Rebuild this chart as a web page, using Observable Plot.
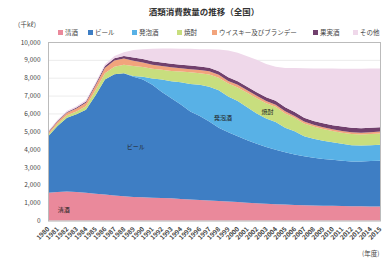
<!DOCTYPE html>
<html><head><meta charset="utf-8">
<script src="https://cdn.jsdelivr.net/npm/d3@7"></script>
<script src="https://cdn.jsdelivr.net/npm/@observablehq/plot@0.6"></script>
<style>
body{margin:0;background:#fff;font-family:"Noto Sans CJK JP","Noto Sans",sans-serif;width:382px;height:265px;overflow:hidden;}
#head{position:relative;height:36px;color:#333;}
#title{position:absolute;left:0;width:408px;top:5px;text-align:center;font-size:8.5px;font-weight:bold;line-height:12px;}
#unit{position:absolute;left:14px;top:20px;font-size:6.5px;line-height:9px;color:#444;}
#legend{position:absolute;left:0;top:28px;width:400px;height:10px;font-size:6.5px;line-height:9px;white-space:nowrap;color:#444;}
#legend span.it{position:absolute;top:0;display:flex;align-items:center;gap:2px;}
#legend i{display:inline-block;width:5px;height:5px;}
#chart svg{display:block;}
</style></head>
<body>
<div id="head"><div id="title">酒類消費数量の推移（全国）</div><div id="unit">（千kℓ）</div><div id="legend"></div></div>
<div id="chart"></div>
<script>
const years = [1980,1981,1982,1983,1984,1985,1986,1987,1988,1989,1990,1991,1992,1993,1994,1995,1996,1997,1998,1999,2000,2001,2002,2003,2004,2005,2006,2007,2008,2009,2010,2011,2012,2013,2014,2015];
const categories = ["清酒","ビール","発泡酒","焼酎","ウイスキー及びブランデー","果実酒","その他"];
const colors = ["#ea899b","#3e7ec4","#58b1e6","#c8de7e","#f2a47c","#71406d","#efd8ea"];
const sake = [1560,1600,1620,1600,1550,1500,1450,1400,1360,1320,1300,1280,1260,1240,1210,1180,1150,1120,1090,1060,1030,1000,970,940,910,890,870,850,840,830,820,810,800,800,790,790];
const beer = [3140,3700,4130,4350,4650,5500,6450,6800,6890,6730,6600,6320,5940,5610,5290,4920,4700,4430,4110,3890,3690,3500,3330,3180,3060,2930,2830,2750,2680,2620,2580,2540,2500,2500,2540,2560];
const happoshu = [0,0,0,0,0,0,0,0,0,50,150,350,700,950,1250,1550,1750,1950,2100,2000,1980,1850,1700,1600,1550,1380,1300,1120,1060,1020,980,950,920,900,890,900];
const shochu = [100,120,140,160,200,300,350,420,480,550,550,550,550,580,600,650,650,680,700,720,750,800,850,850,850,800,750,720,680,650,630,620,620,620,630,630];
const whisky = [100,120,140,160,200,250,300,350,350,300,250,220,200,200,180,180,180,180,160,150,150,150,140,130,120,120,110,100,100,100,100,100,100,100,100,100];
const fruitWine = [50,50,50,60,70,80,100,120,140,180,200,200,200,200,200,200,200,200,200,200,200,200,200,210,220,220,220,220,220,230,230,240,250,250,250,250];
const others = [50,60,70,70,80,90,100,130,200,420,550,700,780,850,890,940,970,1040,1220,1500,1600,1700,1810,1860,1900,2210,2470,2770,2940,3070,3180,3240,3310,3330,3320,3290];
const labelText = ["清酒","ビール","発泡酒","焼酎"];
const labelYear = [1981.6,1989.2,1998.4,2003.1];
const labelValue = [600,4130,5750,6100];
const legendLeft = [58,88,132,177,212,313,353];

const series = [sake, beer, happoshu, shochu, whisky, fruitWine, others];
const rows = categories.flatMap((c,k) => years.map((yr,i) => ({year: yr, cat: c, value: series[k][i]})));
const labels = labelText.map((t,i) => ({t, x: labelYear[i], y: labelValue[i]}));

const lg = document.getElementById("legend");
categories.forEach((c,i) => {
  const s = document.createElement("span"); s.className = "it";
  s.style.left = legendLeft[i] + "px";
  s.innerHTML = `<i style="background:${colors[i]}"></i>${c}`;
  lg.appendChild(s);
});

const chart = Plot.plot({
  width: 382, height: 229,
  marginLeft: 48, marginRight: 2, marginTop: 6, marginBottom: 44.5,
  style: {fontFamily: '"Noto Sans CJK JP","Noto Sans",sans-serif', fontSize: "6.5px", color: "#444", background: "transparent"},
  x: {domain: [1980, 2015], ticks: 36, tickFormat: d => String(d), tickRotate: -45, tickSize: 0, tickPadding: 7, label: "(年度)", labelAnchor: "right", labelOffset: 35, labelArrow: false},
  y: {domain: [0, 10000], ticks: 10, tickFormat: d3.format(","), tickSize: 0, tickPadding: 8, label: null, grid: true},
  color: {domain: categories, range: colors},
  marks: [
    Plot.areaY(rows, {x: "year", y: "value", fill: "cat", order: categories}),
    Plot.frame({stroke: "#bbb"}),
    Plot.text(labels, {x: "x", y: "y", text: "t", fontSize: 6, fill: "#222"})
  ]
});
chart.querySelectorAll("g[aria-label='x-axis tick label'] text, g[aria-label='x-axis'] text").forEach(t => t.setAttribute("font-weight", "600"));
document.getElementById("chart").appendChild(chart);
</script>
</body></html>
